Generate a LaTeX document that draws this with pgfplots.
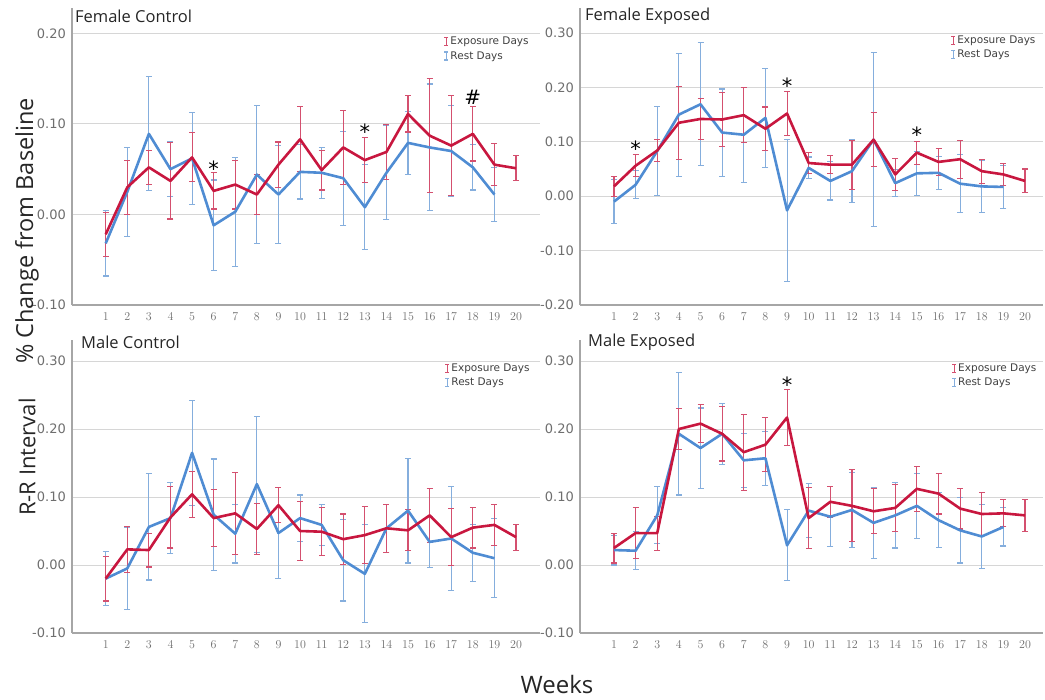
\documentclass[border=0pt]{standalone}
\usepackage{pgfplots}
\usepackage{pgfplotstable}
\pgfplotsset{compat=1.18}
\usepackage{fontspec}
\setmainfont{Open Sans}
\newfontfamily\tickfont{DejaVu Sans}
\newfontfamily\xtickfont{Liberation Sans}
\newfontfamily\legfont{DejaVu Sans}
\newfontfamily\symfont{DejaVu Sans}

\definecolor{expo}{HTML}{C8173F}
\definecolor{rest}{HTML}{4F8CD3}
\definecolor{expoE}{HTML}{D4506F}
\definecolor{restE}{HTML}{85AEDD}
\definecolor{gridc}{HTML}{D6D6D6}
\definecolor{axisc}{HTML}{A6A6A6}
\definecolor{tickc}{HTML}{6E6E6E}

\pgfplotstableread{
w er ee br be
1 -0.022 0.024 -0.032 0.036
2 0.030 0.030 0.025 0.049
3 0.052 0.019 0.089 0.063
4 0.037 0.042 0.050 0.030
5 0.063 0.027 0.062 0.051
6 0.026 0.020 -0.012 0.050
7 0.033 0.027 0.003 0.060
8 0.022 0.022 0.044 0.076
9 0.055 0.025 0.022 0.054
10 0.083 0.036 0.047 0.030
11 0.049 0.022 0.046 0.028
12 0.074 0.041 0.040 0.052
13 0.060 0.025 0.008 0.047
14 0.069 0.030 0.046 0.052
15 0.111 0.020 0.079 0.035
16 0.087 0.063 0.074 0.070
17 0.076 0.055 0.070 0.050
18 0.089 0.030 0.052 0.025
19 0.055 0.023 0.022 0.030
20 0.051 0.014 nan nan
}\FC

\pgfplotstableread{
w er ee br be
1 0.018 0.018 -0.010 0.040
2 0.056 0.020 0.021 0.026
3 0.084 0.021 0.083 0.082
4 0.135 0.067 0.150 0.113
5 0.142 0.037 0.169 0.113
6 0.141 0.050 0.117 0.080
7 0.149 0.050 0.113 0.087
8 0.124 0.040 0.144 0.091
9 0.152 0.041 -0.026 0.131
10 0.061 0.019 0.052 0.020
11 0.058 0.017 0.028 0.035
12 0.058 0.045 0.046 0.058
13 0.104 0.050 0.104 0.160
14 0.040 0.030 0.024 0.025
15 0.080 0.021 0.042 0.040
16 0.063 0.025 0.043 0.030
17 0.068 0.035 0.023 0.053
18 0.046 0.022 0.018 0.048
19 0.040 0.020 0.017 0.040
20 0.028 0.022 nan nan
}\FE

\pgfplotstableread{
w er ee br be
1 -0.020 0.033 -0.020 0.040
2 0.023 0.034 -0.005 0.060
3 0.022 0.025 0.056 0.078
4 0.070 0.045 0.069 0.052
5 0.104 0.034 0.165 0.077
6 0.069 0.042 0.074 0.082
7 0.076 0.060 0.046 0.043
8 0.053 0.037 0.119 0.100
9 0.088 0.026 0.047 0.067
10 0.050 0.044 0.069 0.034
11 0.049 0.035 0.059 0.030
12 0.038 0.037 0.007 0.060
13 0.044 0.042 -0.013 0.072
14 0.054 0.035 0.054 0.035
15 0.051 0.030 0.080 0.077
16 0.073 0.040 0.034 0.038
17 0.041 0.042 0.039 0.077
18 0.055 0.030 0.018 0.042
19 0.059 0.030 0.010 0.058
20 0.041 0.019 nan nan
}\MC

\pgfplotstableread{
w er ee br be
1 0.025 0.022 0.022 0.022
2 0.047 0.037 0.021 0.028
3 0.047 0.025 0.073 0.042
4 0.200 0.030 0.193 0.090
5 0.208 0.028 0.172 0.059
6 0.193 0.040 0.193 0.045
7 0.166 0.056 0.154 0.040
8 0.177 0.040 0.157 0.040
9 0.217 0.041 0.029 0.052
10 0.069 0.045 0.080 0.040
11 0.093 0.023 0.071 0.044
12 0.087 0.053 0.081 0.055
13 0.079 0.033 0.062 0.052
14 0.084 0.035 0.073 0.048
15 0.112 0.033 0.087 0.048
16 0.105 0.030 0.066 0.040
17 0.083 0.030 0.051 0.048
18 0.075 0.032 0.042 0.047
19 0.076 0.020 0.056 0.028
20 0.073 0.024 nan nan
}\ME

\pgfplotsset{
 panel/.style={
  scale only axis,
  axis x line*=bottom, axis y line*=left,
  axis line style={-, axisc, line width=1.1pt},
  ymajorgrids, grid style={gridc, line width=0.9pt},
  major tick length=0pt,
  xtick={1,...,20},
  xticklabel style={font=\xtickfont\fontsize{12}{12}\selectfont, color=tickc, anchor=north, inner sep=0pt, yshift=-8pt},
  yticklabel style={font=\tickfont\fontsize{13}{13}\selectfont, color=tickc, anchor=east, inner sep=0pt, xshift=-6pt},
  title style={font=\fontsize{16.5}{16.5}\selectfont, color=black!85, at={(0,1)}, anchor=west, inner sep=0pt},
  legend style={draw=none, fill=none, font=\legfont\fontsize{10.5}{10.5}\selectfont, text=black!75, anchor=north west, inner sep=0pt, row sep=2pt, nodes={inner sep=1.5pt}},
  legend cell align=left,
  clip=false,
 },
 errR/.style={draw=none, mark=none, forget plot, error bars/.cd, y dir=both, y explicit,
   error bar style={draw=expoE, line width=1.1pt}, error mark options={draw=expoE, line width=1.1pt, mark size=3pt, rotate=90}},
 errB/.style={draw=none, mark=none, forget plot, error bars/.cd, y dir=both, y explicit,
   error bar style={draw=restE, line width=1.1pt}, error mark options={draw=restE, line width=1.1pt, mark size=3pt, rotate=90}},
 lineR/.style={expo, line width=2.6pt, mark=none, forget plot, line join=round},
 lineB/.style={rest, line width=2.6pt, mark=none, forget plot, line join=round},
}

\newcommand\drawseries[1]{%
  \addplot[errB] table[x=w, y=br, y error=be] {#1};
  \addplot[errR] table[x=w, y=er, y error=ee] {#1};
  \addplot[lineB] table[x=w, y=br] {#1};
  \addplot[lineR] table[x=w, y=er] {#1};
  \addlegendimage{legend image code/.code={\draw[expoE, line width=1.2pt] (0pt,-4pt)--(0pt,4pt) (-2pt,-4pt)--(2pt,-4pt) (-2pt,4pt)--(2pt,4pt);}}
  \addlegendentry{Exposure Days}
  \addlegendimage{legend image code/.code={\draw[restE, line width=1.2pt] (0pt,-4pt)--(0pt,4pt) (-2pt,-4pt)--(2pt,-4pt) (-2pt,4pt)--(2pt,4pt);}}
  \addlegendentry{Rest Days}
}

\tikzset{star/.style={font=\symfont\fontsize{21}{21}\selectfont, anchor=base, inner sep=0pt, yshift=-11pt}}

\begin{document}
\begin{tikzpicture}
\useasboundingbox (0pt,0pt) rectangle (1045pt,700pt);

% Female Control
\begin{axis}[panel, at={(72pt,395pt)}, anchor=south west, width=468pt, height=297pt,
  xmin=-0.56, xmax=21.11, ymin=-0.10, ymax=0.228,
  ytick={-0.1,0,0.1,0.2}, yticklabels={-0.10,0.00,0.10,0.20},
  title={Female Control}, title style={xshift=3pt, yshift=-14pt},
  legend style={at={(0.794,0.907)}}]
\drawseries{\FC}
\node[star] at (axis cs:6,0.054) {*};
\node[star] at (axis cs:13,0.0945) {*};
\node[font=\symfont\fontsize{20}{20}\selectfont, inner sep=0pt] at (axis cs:18,0.129) {\#};
\end{axis}

% Female Exposed
\begin{axis}[panel, at={(580pt,395pt)}, anchor=south west, width=463pt, height=297pt,
  xmin=-0.57, xmax=20.83, ymin=-0.20, ymax=0.346,
  ytick={-0.2,-0.1,0,0.1,0.2,0.3}, yticklabels={-0.20,-0.10,0.00,0.10,0.20,0.30},
  title={Female Exposed}, title style={xshift=5pt, yshift=-14pt},
  legend style={at={(0.800,0.911)}}]
\drawseries{\FE}
\node[star] at (axis cs:2,0.0936) {*};
\node[star] at (axis cs:9,0.209) {*};
\node[star] at (axis cs:15,0.119) {*};
\end{axis}

% Male Control
\begin{axis}[panel, at={(72pt,67pt)}, anchor=south west, width=468pt, height=293pt,
  xmin=-0.56, xmax=21.11, ymin=-0.10, ymax=0.331,
  ytick={-0.1,0,0.1,0.2,0.3}, yticklabels={-0.10,0.00,0.10,0.20,0.30},
  title={Male Control}, title style={xshift=9pt, yshift=-8pt},
  legend style={at={(0.796,0.925)}}]
\drawseries{\MC}
\end{axis}

% Male Exposed
\begin{axis}[panel, at={(580pt,67pt)}, anchor=south west, width=463pt, height=293pt,
  xmin=-0.57, xmax=20.83, ymin=-0.10, ymax=0.331,
  ytick={-0.1,0,0.1,0.2,0.3}, yticklabels={-0.10,0.00,0.10,0.20,0.30},
  title={Male Exposed}, title style={xshift=8pt, yshift=-8pt},
  legend style={at={(0.802,0.925)}}]
\drawseries{\ME}
\node[star] at (axis cs:9,0.27) {*};
\end{axis}

\node[rotate=90, font=\fontsize{23.5}{23.5}\selectfont, text=black!85] at (27pt,469pt) {\% Change from Baseline};
\node[rotate=90, font=\fontsize{22}{22}\selectfont, text=black!85] at (27pt,243pt) {R-R Interval};
\node[font=\fontsize{24}{24}\selectfont, text=black!85] at (557pt,15pt) {Weeks};
\end{tikzpicture}
\end{document}
